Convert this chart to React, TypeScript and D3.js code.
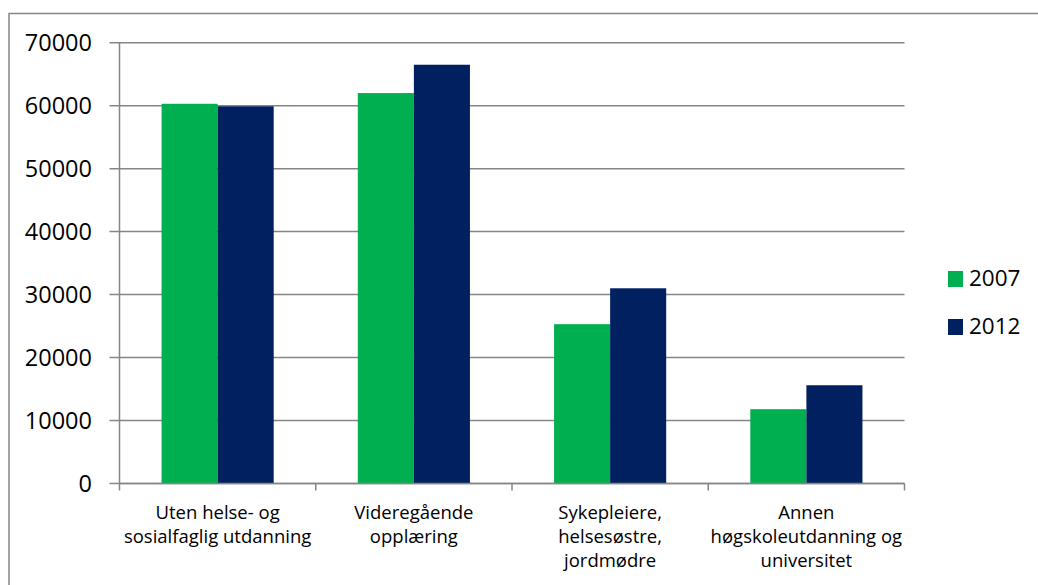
import React from "react";
import * as d3 from "d3";

const categories: string[][] = [
  ["Uten helse- og", "sosialfaglig utdanning"],
  ["Videregående", "opplæring"],
  ["Sykepleiere,", "helsesøstre,", "jordmødre"],
  ["Annen", "høgskoleutdanning og", "universitet"],
];
const seriesNames = ["2007", "2012"];
const values2007 = [60300, 62000, 25300, 11800];
const values2012 = [59900, 66500, 31000, 15600];
const yTicks = [0, 10000, 20000, 30000, 40000, 50000, 60000, 70000];
const colors = ["#00B050", "#002060"];

const W = 1038;
const H = 585;
const left = 119.5;
const right = 904.5;
const top = 42.7;
const bottom = 483.5;
const FONT = "'Open Sans', Lato, sans-serif";

export default function App() {
  const x = d3.scaleBand<number>().domain(d3.range(categories.length)).range([left, right]).paddingInner(0).paddingOuter(0);
  const y = d3.scaleLinear().domain([0, 70000]).range([bottom, top]);
  const series = [values2007, values2012];
  const bw = x.bandwidth();
  const barW = bw * 0.2857;
  const groupOff = (bw - barW * 2) / 2;

  return (
    <div style={{ position: "absolute", left: 0, top: 0 }}>
      <svg width={W} height={H} style={{ display: "block" }}>
        <rect x={0} y={0} width={W} height={H} fill="#fff" />
        <path d={`M9,${H + 5} L9,13.5 L${W + 5},13.5`} fill="none" stroke="#868686" strokeWidth={1.5} />
        {yTicks.map((t) => (
          <g key={t}>
            <line x1={left - 10} x2={right} y1={y(t)} y2={y(t)} stroke="#868686" strokeWidth={1.5} />
            <text x={92} y={y(t)} dy="0.36em" textAnchor="end" fontFamily={FONT} fontSize={23.5} fill="#000">
              {t}
            </text>
          </g>
        ))}
        {series.map((vals, s) =>
          vals.map((v, i) => (
            <rect
              key={`${s}-${i}`}
              x={(x(i) as number) + groupOff + s * barW}
              y={y(v)}
              width={barW}
              height={y(0) - y(v)}
              fill={colors[s]}
            />
          ))
        )}
        <line x1={left} x2={left} y1={top} y2={bottom} stroke="#868686" strokeWidth={1.5} />
        <line x1={left} x2={right} y1={bottom} y2={bottom} stroke="#868686" strokeWidth={1.5} />
        {d3.range(categories.length + 1).map((i) => {
          const xx = left + bw * i;
          return <line key={i} x1={xx} x2={xx} y1={bottom} y2={bottom + 7} stroke="#868686" strokeWidth={1.5} />;
        })}
        {categories.map((lines, i) => (
          <text key={i} textAnchor="middle" fontFamily={FONT} fontSize={18.5} fill="#000">
            {lines.map((ln, j) => (
              <tspan key={j} x={(x(i) as number) + bw / 2} y={519 + j * 24}>
                {ln}
              </tspan>
            ))}
          </text>
        ))}
        {seriesNames.map((n, s) => (
          <g key={n}>
            <rect x={948} y={271 + s * 48} width={15} height={16} fill={colors[s]} />
            <text x={969} y={286 + s * 48} fontFamily={FONT} fontSize={22.5} fill="#000">
              {n}
            </text>
          </g>
        ))}
      </svg>
    </div>
  );
}
